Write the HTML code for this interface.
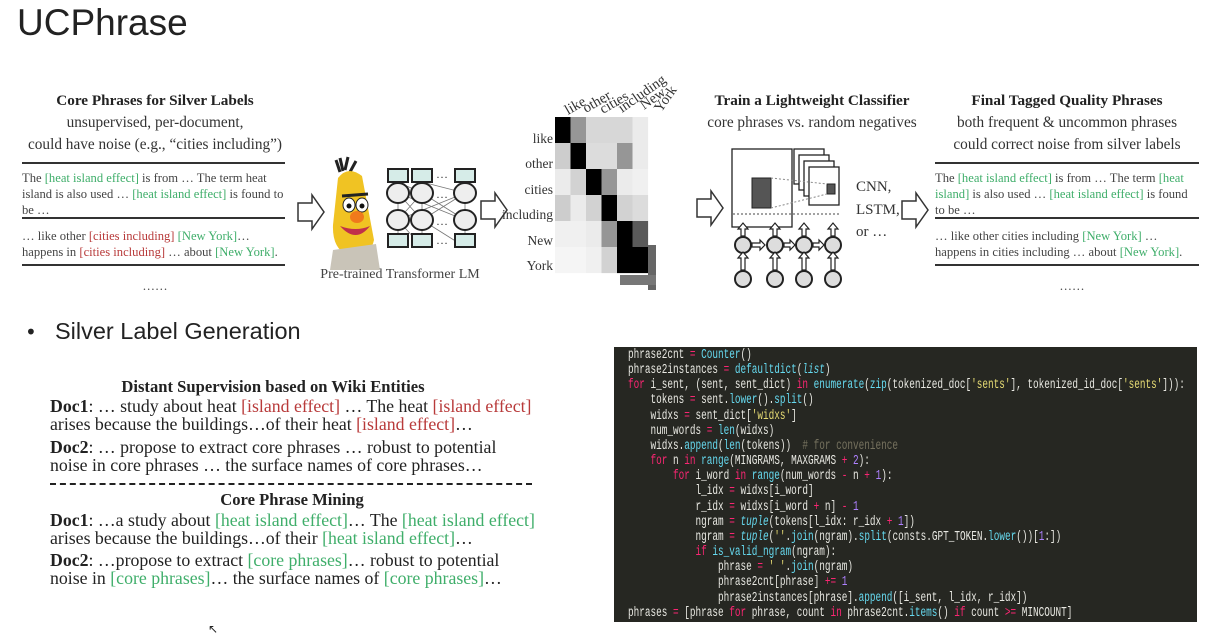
<!DOCTYPE html>
<html><head><meta charset="utf-8"><style>
body{margin:0;width:1222px;height:638px;background:#fff;position:relative;overflow:hidden;font-family:"Liberation Serif",serif;color:#222}
.a{position:absolute;white-space:nowrap}
.c{transform:translateX(-50%)}
.t{font-weight:bold;font-size:15.2px}
.s{font-size:15.3px;color:#333}
.m{font-size:12.6px;color:#444;line-height:16px}
.g{color:#3fae6a}.r{color:#b83a3a}
.rule{position:absolute;height:2px;background:#333}
.d{font-size:17.8px;color:#222}
#code{position:absolute;left:614px;top:347px;width:583px;height:275px;background:#262722;overflow:hidden}
#code pre{margin:0;position:absolute;left:14px;top:1px;font-family:"Liberation Mono",monospace;font-size:13.4px;line-height:15.15px;color:#e8e8e2;transform:scaleX(0.70);transform-origin:0 0}
.k{color:#f92672}.f{color:#66d9ef}.y{color:#e6db74}.n{color:#ae81ff}.cm{color:#75715e}.i{color:#66d9ef;font-style:italic}
</style></head><body>
<div class="a" style="left:17px;top:2px;font-family:'Liberation Sans',sans-serif;font-size:37px;color:#222">UCPhrase</div>

<div class="a c t" style="left:155px;top:92px">Core Phrases for Silver Labels</div>
<div class="a c s" style="left:155px;top:114px">unsupervised, per-document,</div>
<div class="a c s" style="left:155px;top:136px">could have noise (e.g., “cities including”)</div>
<div class="rule" style="left:22px;top:162px;width:263px"></div>
<div class="a m" style="left:22px;top:170px">The <span class="g">[heat island effect]</span> is from … The term heat<br>island is also used … <span class="g">[heat island effect]</span> is found to<br>be …</div>
<div class="rule" style="left:22px;top:217px;width:263px"></div>
<div class="a m" style="left:22px;top:228px">… like other <span class="r">[cities including]</span> <span class="g">[New York]</span>…<br>happens in <span class="r">[cities including]</span> …  about <span class="g">[New York]</span>.</div>
<div class="rule" style="left:22px;top:264px;width:263px"></div>
<div class="a c m" style="left:155px;top:278px">……</div>

<svg class="a" style="left:0;top:0" width="1222" height="320">
<g fill="#fff" stroke="#333" stroke-width="1.5">
<path d="M298 203h14v-8l12 17-12 17v-8h-14z"/>
<path d="M481 201h14v-8l12 17-12 17v-8h-14z"/>
<path d="M697 199h14v-8l12 17-12 17v-8h-14z"/>
<path d="M902 201h14v-8l12 17-12 17v-8h-14z"/>
</g>
<path d="M340 172 L336 160 M345 170 L348 157 M350 172 L356 161 M343 171 L340 158" stroke="#222" stroke-width="3"/>
<path d="M338 178 Q348 165 362 176 L374 240 Q370 258 350 256 Q332 250 333 225 Z" fill="#f0c323"/>
<path d="M333 250 L376 244 L380 270 L330 270Z" fill="#c9c4b8"/>
<ellipse cx="349" cy="205" rx="6" ry="7" fill="#fff" stroke="#222"/><ellipse cx="362" cy="205" rx="6" ry="7" fill="#fff" stroke="#222"/>
<circle cx="349" cy="206" r="2.5" fill="#111"/><circle cx="362" cy="206" r="2.5" fill="#111"/>
<path d="M342 196 L368 194" stroke="#222" stroke-width="3"/>
<ellipse cx="357" cy="217" rx="7" ry="6" fill="#f07a1c"/>
<path d="M340 226 Q356 244 370 226 Q356 232 340 226Z" fill="#c0304a"/>
<g stroke="#777" stroke-width="0.8"><path d="M398 193 L422 220 M422 193 L398 220 M398 193 L465 220 M465 193 L398 220 M422 193 L465 220 M465 193 L422 220 M398 182 L422 193 M422 182 L465 193 M398 220 L422 247 M422 220 L465 247 M398 182V193 M422 182V193 M465 182V193 M398 230V234 M422 230V234 M465 230V234 M398 203V210 M422 203V210 M465 203V210"/></g>
<g fill="#d6ece8" stroke="#222" stroke-width="2">
<rect x="388" y="169" width="20" height="13"/><rect x="412" y="169" width="20" height="13"/><rect x="455" y="169" width="20" height="13"/>
<rect x="388" y="234" width="20" height="13"/><rect x="412" y="234" width="20" height="13"/><rect x="455" y="234" width="20" height="13"/>
</g>
<g fill="#eee" stroke="#222" stroke-width="2">
<ellipse cx="398" cy="193" rx="11" ry="10"/><ellipse cx="422" cy="193" rx="11" ry="10"/><ellipse cx="465" cy="193" rx="11" ry="10"/>
<ellipse cx="398" cy="220" rx="11" ry="10"/><ellipse cx="422" cy="220" rx="11" ry="10"/><ellipse cx="465" cy="220" rx="11" ry="10"/>
</g>
<g font-family="Liberation Serif" font-size="12" fill="#333"><text x="436" y="178">…</text><text x="436" y="198">…</text><text x="436" y="225">…</text><text x="436" y="244">…</text></g>
<text x="400" y="278" text-anchor="middle" font-family="Liberation Serif" font-size="14" fill="#444">Pre-trained Transformer LM</text>
<g id="hm"></g>
<g font-family="Liberation Serif" font-size="13.5" fill="#333" text-anchor="end">
<text x="553" y="143">like</text><text x="553" y="168">other</text><text x="553" y="194">cities</text><text x="553" y="219">including</text><text x="553" y="245">New</text><text x="553" y="270">York</text>
</g>
<g font-family="Liberation Serif" font-size="14.5" fill="#333">
<text transform="translate(568,115) rotate(-30)">like</text>
<text transform="translate(586,113) rotate(-30)">other</text>
<text transform="translate(603,114) rotate(-30)">cities</text>
<text transform="translate(622,113) rotate(-35)">including</text>
<text transform="translate(644,110) rotate(-35)">New</text>
<text transform="translate(661,113) rotate(-55)">York</text>
</g>
<g fill="#fff" stroke="#222" stroke-width="1.3">
<rect x="732" y="149" width="60" height="78"/>
<rect x="794" y="149" width="30" height="35"/><rect x="799" y="155" width="30" height="35"/><rect x="804" y="161" width="30" height="35"/><rect x="809" y="167" width="30" height="38"/>
</g>
<rect x="752" y="178" width="19" height="30" fill="#555" stroke="#222"/>
<rect x="827" y="184" width="8" height="10" fill="#555" stroke="#222"/>
<path d="M771 178 L827 184 M771 208 L827 194" stroke="#888" stroke-dasharray="2 2"/>
<path d="M733 214 H840" stroke="#444" stroke-dasharray="2 2"/>
<g fill="#ddd" stroke="#222" stroke-width="2">
<circle cx="743" cy="245" r="8"/><circle cx="775" cy="245" r="8"/><circle cx="804" cy="245" r="8"/><circle cx="833" cy="245" r="8"/>
<circle cx="743" cy="279" r="8"/><circle cx="775" cy="279" r="8"/><circle cx="804" cy="279" r="8"/><circle cx="833" cy="279" r="8"/>
</g>
<g stroke="#222" stroke-width="1.2" fill="#fff">
<path d="M741 270V258h-3l5-6 5 6h-3v12z"/><path d="M773 270V258h-3l5-6 5 6h-3v12z"/><path d="M802 270V258h-3l5-6 5 6h-3v12z"/><path d="M831 270V258h-3l5-6 5 6h-3v12z"/>
<path d="M741 236V229h-3l5-6 5 6h-3v7z"/><path d="M773 236V229h-3l5-6 5 6h-3v7z"/><path d="M802 236V229h-3l5-6 5 6h-3v7z"/><path d="M831 236V229h-3l5-6 5 6h-3v7z"/>
<path d="M752 243h8v-3l5 5-5 5v-3h-8z"/><path d="M784 243h6v-3l5 5-5 5v-3h-6z"/><path d="M813 243h6v-3l5 5-5 5v-3h-6z"/>
</g>
<g font-family="Liberation Serif" font-size="15" fill="#333"><text x="856" y="191">CNN,</text><text x="856" y="214">LSTM,</text><text x="856" y="236">or …</text></g>
</svg>

<div class="a c t" style="left:812px;top:92px">Train a Lightweight Classifier</div>
<div class="a c s" style="left:812px;top:114px">core phrases vs. random negatives</div>

<div class="a c t" style="left:1067px;top:92px">Final Tagged Quality Phrases</div>
<div class="a c s" style="left:1067px;top:114px">both frequent &amp; uncommon phrases</div>
<div class="a c s" style="left:1067px;top:136px">could correct noise from silver labels</div>
<div class="rule" style="left:935px;top:162px;width:264px"></div>
<div class="a m" style="left:935px;top:170px">The <span class="g">[heat island effect]</span> is from … The term  <span class="g">[heat</span><br><span class="g">island]</span> is also used … <span class="g">[heat island effect]</span> is found<br>to be …</div>
<div class="rule" style="left:935px;top:217px;width:264px"></div>
<div class="a m" style="left:935px;top:228px">… like other cities including <span class="g">[New York]</span> …<br>happens in cities including …  about <span class="g">[New York]</span>.</div>
<div class="rule" style="left:935px;top:264px;width:264px"></div>
<div class="a c m" style="left:1072px;top:278px">……</div>

<div class="a" style="left:25px;top:320px;font-family:'DejaVu Sans',sans-serif;font-size:20px;color:#222">•</div>
<div class="a" style="left:55px;top:318px;font-family:'Liberation Sans',sans-serif;font-size:23.5px;color:#222">Silver Label Generation</div>
<div class="a c t" style="left:273px;top:377px;font-size:16.6px">Distant Supervision based on Wiki Entities</div>
<div class="a d" style="left:50px;top:397px;line-height:18px"><b>Doc1</b>: … study about heat <span class="r">[island effect]</span> … The heat <span class="r">[island effect]</span><br>arises because the buildings…of their heat <span class="r">[island effect]</span>…</div>
<div class="a d" style="left:50px;top:438px;line-height:18px"><b>Doc2</b>: … propose to extract core phrases … robust  to  potential<br>noise in core phrases … the surface names of core phrases…</div>
<div class="a" style="left:50px;top:483px;width:482px;border-top:2px dashed #222"></div>
<div class="a c t" style="left:292px;top:490px;font-size:16.6px">Core Phrase Mining</div>
<div class="a d" style="left:50px;top:511px;line-height:18px"><b>Doc1</b>: …a study about <span class="g">[heat island effect]</span>… The <span class="g">[heat island effect]</span><br>arises because the buildings…of their <span class="g">[heat island effect]</span>…</div>
<div class="a d" style="left:50px;top:551px;line-height:18px"><b>Doc2</b>: …propose to extract <span class="g">[core phrases]</span>… robust to potential<br>noise in  <span class="g">[core phrases]</span>… the surface names of <span class="g">[core phrases]</span>…</div>
<div class="a" style="left:208px;top:622px;font-size:12px">&#x2196;</div>

<div id="code"><pre>phrase2cnt <span class="k">=</span> <span class="f">Counter</span>()
phrase2instances <span class="k">=</span> <span class="f">defaultdict</span>(<span class="i">list</span>)
<span class="k">for</span> i_sent, (sent, sent_dict) <span class="k">in</span> <span class="f">enumerate</span>(<span class="f">zip</span>(tokenized_doc[<span class="y">'sents'</span>], tokenized_id_doc[<span class="y">'sents'</span>])):
    tokens <span class="k">=</span> sent.<span class="f">lower</span>().<span class="f">split</span>()
    widxs <span class="k">=</span> sent_dict[<span class="y">'widxs'</span>]
    num_words <span class="k">=</span> <span class="f">len</span>(widxs)
    widxs.<span class="f">append</span>(<span class="f">len</span>(tokens))  <span class="cm"># for convenience</span>
    <span class="k">for</span> n <span class="k">in</span> <span class="f">range</span>(MINGRAMS, MAXGRAMS <span class="k">+</span> <span class="n">2</span>):
        <span class="k">for</span> i_word <span class="k">in</span> <span class="f">range</span>(num_words <span class="k">-</span> n <span class="k">+</span> <span class="n">1</span>):
            l_idx <span class="k">=</span> widxs[i_word]
            r_idx <span class="k">=</span> widxs[i_word <span class="k">+</span> n] <span class="k">-</span> <span class="n">1</span>
            ngram <span class="k">=</span> <span class="i">tuple</span>(tokens[l_idx: r_idx <span class="k">+</span> <span class="n">1</span>])
            ngram <span class="k">=</span> <span class="i">tuple</span>(<span class="y">''</span>.<span class="f">join</span>(ngram).<span class="f">split</span>(consts.GPT_TOKEN.<span class="f">lower</span>())[<span class="n">1</span>:])
            <span class="k">if</span> <span class="f">is_valid_ngram</span>(ngram):
                phrase <span class="k">=</span> <span class="y">' '</span>.<span class="f">join</span>(ngram)
                phrase2cnt[phrase] <span class="k">+=</span> <span class="n">1</span>
                phrase2instances[phrase].<span class="f">append</span>([i_sent, l_idx, r_idx])
phrases <span class="k">=</span> [phrase <span class="k">for</span> phrase, count <span class="k">in</span> phrase2cnt.<span class="f">items</span>() <span class="k">if</span> count <span class="k">&gt;=</span> MINCOUNT]</pre></div>

<script>
var v=[[0,150,215,215,215,235],[205,0,220,220,150,235],[235,210,0,150,235,240],[205,235,210,0,210,220],[240,240,235,150,0,90],[245,245,240,210,0,0]];
var s='';for(var r=0;r<6;r++)for(var c=0;c<6;c++){var g=v[r][c];s+='<rect x="'+(555+c*15.5)+'" y="'+(117+r*26)+'" width="15.6" height="26.1" fill="rgb('+g+','+g+','+g+')"/>';}
s+='<rect x="648" y="245" width="8" height="45" fill="#666"/><rect x="620" y="275" width="36" height="10" fill="#777"/>';
document.getElementById('hm').innerHTML=s;
</script>
</body></html>
